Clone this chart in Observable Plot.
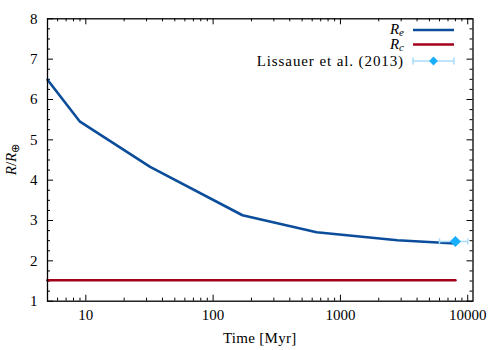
<!DOCTYPE html>
<html>
<head>
<meta charset="utf-8">
<script src="https://cdn.jsdelivr.net/npm/d3@7"></script>
<script src="https://cdn.jsdelivr.net/npm/@observablehq/plot@0.6"></script>
<style>
  html, body { margin: 0; padding: 0; background: white; }
  #chart { width: 500px; height: 350px; }
  svg, svg text { font-family: "Liberation Serif", "Times New Roman", serif !important; }
</style>
</head>
<body>
<div id="chart"></div>
<script>
// ---- data ----
const times = [5, 9, 32, 170, 650, 2800, 8000];           // Myr
const Re = [6.49, 5.45, 4.33, 3.13, 2.71, 2.51, 2.43];    // envelope radius
const Rc = [1.52, 1.52, 1.52, 1.52, 1.52, 1.52, 1.52];    // core radius
const obsTime = [8000];
const obsTimeLo = [6000];
const obsTimeHi = [10000];
const obsR = [2.48];
const xMajor = [10, 100, 1000, 10000];
const yMajor = [1, 2, 3, 4, 5, 6, 7, 8];

// ---- tables ----
const curves = times.map((t, i) => ({t, Re: Re[i], Rc: Rc[i]}));
const obs = obsTime.map((t, i) => ({t, lo: obsTimeLo[i], hi: obsTimeHi[i], r: obsR[i]}));
const xMinor = [];
for (const d of [1, 10, 100, 1000]) for (let k = 2; k <= 9; k++) { const v = k * d; if (v >= 5 && v <= 11000 && v !== 10) xMinor.push(v); }
const yMinor = [];
for (let v = 1; v < 8; v += 0.25) if (v % 1 !== 0) yMinor.push(v);

const W = 500, H = 350;
const mL = 47, mR = 27.5, mT = 18.3, mB = 49.3;
const fw = W - mL - mR, fh = H - mT - mB;
const MAJ = 6, MIN = 3;
const FONT = "Liberation Serif, Times New Roman, serif";

const blue = "#0b4d9b", red = "#a3001b", lblue = "#1aaeff", ebar = "#a8dcfb";

const vline = {draw(ctx, size) { const r = Math.sqrt(size) / 2; ctx.moveTo(0, -r); ctx.lineTo(0, r); }};

const chart = Plot.plot({
  width: W, height: H,
  marginLeft: mL, marginRight: mR, marginTop: mT, marginBottom: mB,
  style: {fontFamily: FONT, fontSize: "15px", background: "white", color: "black"},
  x: {type: "log", domain: [5, 11000], label: null},
  y: {domain: [1, 8], label: null},
  marks: [
    Plot.tickX(xMajor, {x: d => d, insetTop: fh - MAJ, stroke: "black", strokeWidth: 1}),
    Plot.tickX(xMajor, {x: d => d, insetBottom: fh - MAJ, stroke: "black", strokeWidth: 1}),
    Plot.tickX(xMinor, {x: d => d, insetTop: fh - MIN, stroke: "black", strokeWidth: 1}),
    Plot.tickX(xMinor, {x: d => d, insetBottom: fh - MIN, stroke: "black", strokeWidth: 1}),
    Plot.tickY(yMajor, {y: d => d, insetRight: fw - MAJ, stroke: "black", strokeWidth: 1}),
    Plot.tickY(yMajor, {y: d => d, insetLeft: fw - MAJ, stroke: "black", strokeWidth: 1}),
    Plot.tickY(yMinor, {y: d => d, insetRight: fw - MIN, stroke: "black", strokeWidth: 1}),
    Plot.tickY(yMinor, {y: d => d, insetLeft: fw - MIN, stroke: "black", strokeWidth: 1}),
    Plot.axisX({ticks: xMajor, tickSize: 0, tickPadding: 8, tickFormat: d3.format("d"), label: null, fontSize: 15}),
    Plot.axisY({ticks: yMajor, tickSize: 0, tickPadding: 10, tickFormat: d3.format("d"), label: null, fontSize: 15}),
    Plot.line(curves, {x: "t", y: "Rc", stroke: red, strokeWidth: 2.6}),
    Plot.line(curves, {x: "t", y: "Re", stroke: blue, strokeWidth: 2.6}),
    Plot.link(obs, {x1: "lo", x2: "hi", y1: "r", y2: "r", stroke: ebar, strokeWidth: 1.5}),
    Plot.dot(obs, {x: "lo", y: "r", symbol: vline, r: 3.5, stroke: ebar, strokeWidth: 1.5}),
    Plot.dot(obs, {x: "hi", y: "r", symbol: vline, r: 3.5, stroke: ebar, strokeWidth: 1.5}),
    Plot.dot(obs, {x: "t", y: "r", symbol: "diamond2", r: 5, fill: lblue, stroke: "none"}),
    Plot.frame({stroke: "black", strokeWidth: 1.3})
  ]
});
document.getElementById("chart").appendChild(chart);

// ---- titles and legend ----
const svg = d3.select(chart);
const g = svg.append("g").attr("font-family", FONT).attr("font-size", 15).attr("fill", "black");

g.append("text").attr("x", mL + fw / 2).attr("y", 343).attr("text-anchor", "middle").attr("letter-spacing", 0.3).text("Time [Myr]");

const yt = g.append("text").attr("transform", `translate(16,${mT + fh / 2}) rotate(-90)`).attr("text-anchor", "middle");
yt.append("tspan").attr("font-style", "italic").text("R");
yt.append("tspan").text("/");
yt.append("tspan").attr("font-style", "italic").text("R");
yt.append("tspan").attr("font-size", 11).attr("dy", 3).text("⊕");

const lx = 404, sx1 = 413, sx2 = 454;
function subLabel(y, sub) {
  const t = g.append("text").attr("x", lx).attr("y", y + 4).attr("text-anchor", "end").attr("font-style", "italic");
  t.append("tspan").text("R");
  t.append("tspan").attr("font-size", 11).attr("dy", 2).text(sub);
}
subLabel(30, "e");
g.append("line").attr("x1", sx1).attr("x2", sx2).attr("y1", 30).attr("y2", 30).attr("stroke", blue).attr("stroke-width", 2.6);
subLabel(44.5, "c");
g.append("line").attr("x1", sx1).attr("x2", sx2).attr("y1", 44.5).attr("y2", 44.5).attr("stroke", red).attr("stroke-width", 2.6);
g.append("text").attr("x", lx).attr("y", 66).attr("text-anchor", "end").attr("letter-spacing", 0.9).text("Lissauer et al. (2013)");
g.append("line").attr("x1", sx1).attr("x2", sx2).attr("y1", 61).attr("y2", 61).attr("stroke", ebar).attr("stroke-width", 1.5);
g.append("line").attr("x1", sx1).attr("x2", sx1).attr("y1", 57.5).attr("y2", 64.5).attr("stroke", ebar).attr("stroke-width", 1.5);
g.append("line").attr("x1", sx2).attr("x2", sx2).attr("y1", 57.5).attr("y2", 64.5).attr("stroke", ebar).attr("stroke-width", 1.5);
g.append("path").attr("d", d3.symbol(d3.symbolDiamond2, 50)()).attr("transform", `translate(${(sx1 + sx2) / 2},61)`).attr("fill", lblue);
</script>
</body>
</html>
